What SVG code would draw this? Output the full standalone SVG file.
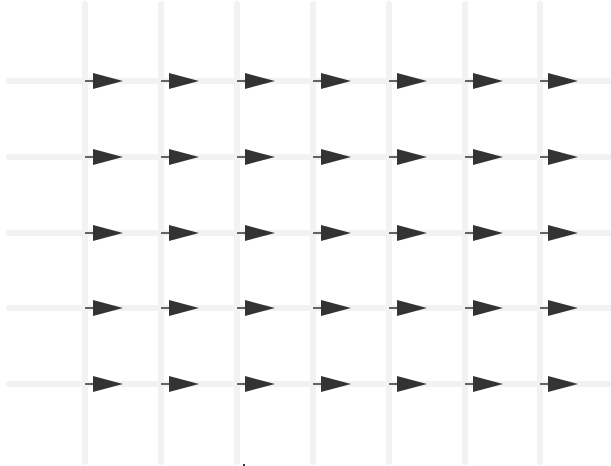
<svg xmlns="http://www.w3.org/2000/svg" width="611" height="466" viewBox="0 0 611 466">
<defs>
<style>
.g{stroke:#f2f2f2;stroke-width:6;stroke-linecap:round;fill:none}
.s{stroke:#333;stroke-width:1.5;fill:none}
.h{fill:#333}
</style>
<g id="a"><line class="s" x1="0" y1="0" x2="10" y2="0"/><path class="h" d="M8,-8 L38,0 L8,8 Z"/></g>
</defs>
<rect width="611" height="466" fill="#fff"/>
<g id="grid">
<line class="g" x1="85" y1="4" x2="85" y2="462"/>
<line class="g" x1="161" y1="4" x2="161" y2="462"/>
<line class="g" x1="237" y1="4" x2="237" y2="462"/>
<line class="g" x1="313" y1="4" x2="313" y2="462"/>
<line class="g" x1="389" y1="4" x2="389" y2="462"/>
<line class="g" x1="465" y1="4" x2="465" y2="462"/>
<line class="g" x1="540" y1="4" x2="540" y2="462"/>
<line class="g" x1="9" y1="81" x2="620" y2="81"/>
<line class="g" x1="9" y1="157" x2="620" y2="157"/>
<line class="g" x1="9" y1="233" x2="620" y2="233"/>
<line class="g" x1="9" y1="308" x2="620" y2="308"/>
<line class="g" x1="9" y1="384" x2="620" y2="384"/>
</g>
<g id="connectors">
<use href="#a" x="85" y="81"/><use href="#a" x="161" y="81"/><use href="#a" x="237" y="81"/><use href="#a" x="313" y="81"/><use href="#a" x="389" y="81"/><use href="#a" x="465" y="81"/><use href="#a" x="540" y="81"/>
<use href="#a" x="85" y="157"/><use href="#a" x="161" y="157"/><use href="#a" x="237" y="157"/><use href="#a" x="313" y="157"/><use href="#a" x="389" y="157"/><use href="#a" x="465" y="157"/><use href="#a" x="540" y="157"/>
<use href="#a" x="85" y="233"/><use href="#a" x="161" y="233"/><use href="#a" x="237" y="233"/><use href="#a" x="313" y="233"/><use href="#a" x="389" y="233"/><use href="#a" x="465" y="233"/><use href="#a" x="540" y="233"/>
<use href="#a" x="85" y="308"/><use href="#a" x="161" y="308"/><use href="#a" x="237" y="308"/><use href="#a" x="313" y="308"/><use href="#a" x="389" y="308"/><use href="#a" x="465" y="308"/><use href="#a" x="540" y="308"/>
<use href="#a" x="85" y="384"/><use href="#a" x="161" y="384"/><use href="#a" x="237" y="384"/><use href="#a" x="313" y="384"/><use href="#a" x="389" y="384"/><use href="#a" x="465" y="384"/><use href="#a" x="540" y="384"/>
</g>
<rect x="243" y="464" width="2" height="2" fill="#333"/>
</svg>
